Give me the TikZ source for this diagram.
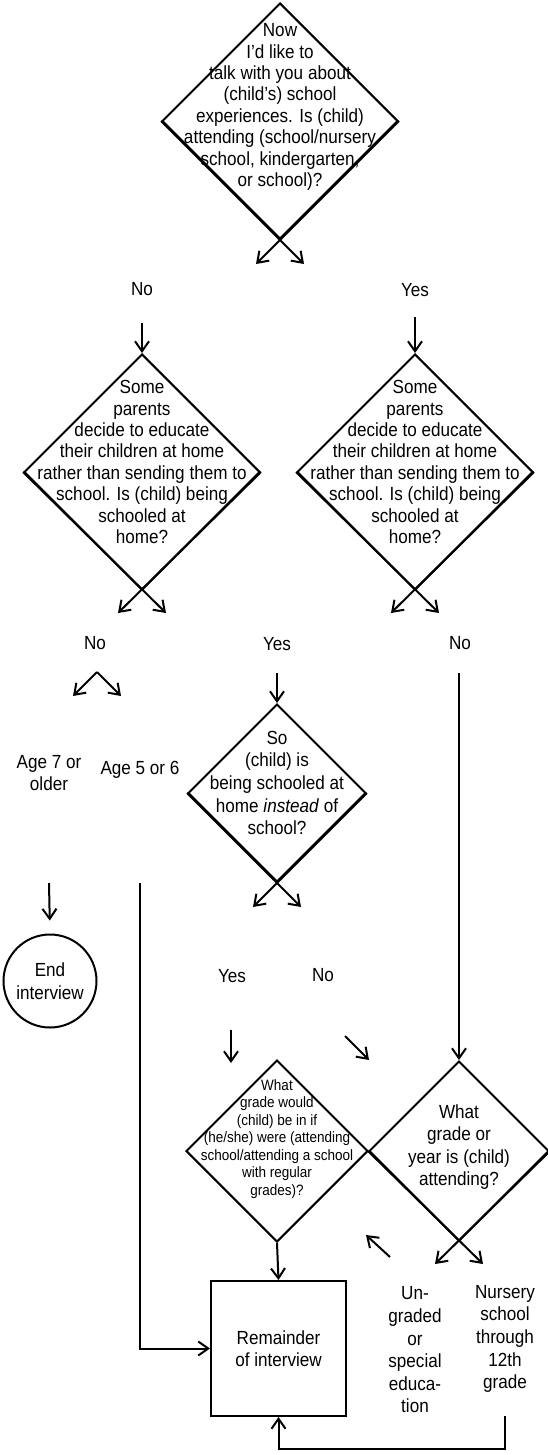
\documentclass[tikz,border=0pt]{standalone}
\usepackage{fontspec}
\setmainfont{Liberation Sans}[FakeStretch=0.9]
\usetikzlibrary{shapes.geometric,arrows.meta,calc}
\begin{document}
\begin{tikzpicture}[x=1pt,y=-1pt,
  line width=2pt,
  dia/.style={draw, diamond, aspect=1, inner sep=0pt, minimum width=#1, minimum height=#1},
  qtext/.style={align=center, inner sep=0pt, font=\fontsize{19}{21.4}\selectfont},
  stext/.style={align=center, inner sep=0pt, font=\fontsize{15}{17.5}\selectfont},
  lab/.style={align=center, inner sep=0pt, font=\fontsize{19}{22.6}\selectfont},
  arr/.style={-{Straight Barb[length=10pt,width=14pt]}},
  ]
\useasboundingbox (0,0) rectangle (548,1455);

% decision diamonds
\node[dia=236pt] (d1) at (280,121) {};
\node[qtext] (d1t) at (280,107) {Now\\I’d like to\\talk with you about\\(child’s) school\\experiences. Is (child)\\attending (school/nursery\\school, kindergarten,\\or school)?};

\node[dia=236pt] (d2) at (142,472) {};
\node[qtext] (d2t) at (142,462) {Some\\parents\\decide to educate\\their children at home\\rather than sending them to\\school. Is (child) being\\schooled at\\home?};

\node[dia=236pt] (d3) at (415,472) {};
\node[qtext] (d3t) at (415,462) {Some\\parents\\decide to educate\\their children at home\\rather than sending them to\\school. Is (child) being\\schooled at\\home?};

\node[dia=178pt] (d4) at (277,793) {};
\node[lab] (d4t) at (277,783) {So\\(child) is\\being schooled at\\home \textit{instead} of\\school?};

\node[dia=182pt] (d5) at (277,1151) {};
\node[stext] (d5t) at (277,1139) {What\\grade would\\(child) be in if\\(he/she) were (attending\\school/attending a school\\with regular\\grades)?};

\node[dia=180pt] (d6) at (459,1151) {};
\node[lab] (d6t) at (459,1147) {What\\grade or\\year is (child)\\attending?};

% terminal shapes
\node[draw, circle, minimum size=93pt, inner sep=0pt, lab] (end) at (50,981) {End\\interview};
\node[draw, rectangle, minimum width=135pt, minimum height=135pt, lab] (box) at (278.5,1348.5) {Remainder\\of interview};

% labels
\node[lab] (no1) at (142,289) {No};
\node[lab] (yes1) at (415,290) {Yes};
\node[lab] (no2) at (95,643) {No};
\node[lab] (yes2) at (277,644) {Yes};
\node[lab] (no3) at (460,643) {No};
\node[lab] (age7) at (49,773) {Age 7 or\\older};
\node[lab] (age5) at (140,770) {Age 5 or 6};
\node[lab] (yes4) at (232,976) {Yes};
\node[lab] (no4) at (323,975) {No};
\node[lab] (ung) at (415,1350) {Un-\\graded\\or\\special\\educa-\\tion};
\node[lab] (nur) at (505,1339) {Nursery\\school\\through\\12th\\grade};

% free ends
\coordinate (t1l) at (256,264);
\coordinate (t1r) at (304,264);
\coordinate (s2) at (142,323);
\coordinate (s3) at (415,317);
\coordinate (t2l) at (118,613);
\coordinate (t2r) at (166,613);
\coordinate (t3l) at (391,613);
\coordinate (t3r) at (439,613);
\coordinate (pk) at (97,672);
\coordinate (pk1) at (73,696);
\coordinate (pk2) at (121,696);
\coordinate (s4) at (277,673);
\coordinate (s6) at (459,673);
\coordinate (t4l) at (253,907);
\coordinate (t4r) at (301,907);
\coordinate (e1) at (49,883);
\coordinate (v1) at (140,883);
\coordinate (y5) at (231,1030);
\coordinate (y5e) at (231,1063);
\coordinate (n5) at (345,1036);
\coordinate (n5e) at (369,1060);
\coordinate (t6l) at (435,1264);
\coordinate (t6r) at (483,1264);
\coordinate (ua) at (390,1257);
\coordinate (uae) at (366,1235);
\coordinate (nb) at (505,1416);
\coordinate (nbc) at (505,1449);

% connectors
\draw[arr] (d1.east) -- (t1l);
\draw[arr] (d1.west) -- (t1r);
\draw[arr] (s2) -- (d2.north);
\draw[arr] (s3) -- (d3.north);
\draw[arr] (d2.east) -- (t2l);
\draw[arr] (d2.west) -- (t2r);
\draw[arr] (d3.east) -- (t3l);
\draw[arr] (d3.west) -- (t3r);
\draw[arr] (pk) -- (pk1);
\draw[arr] (pk) -- (pk2);
\draw[arr] (s4) -- (d4.north);
\draw[arr] (s6) -- (d6.north);
\draw[arr] (d4.east) -- (t4l);
\draw[arr] (d4.west) -- (t4r);
\draw[arr, shorten >=13pt] (e1) -- (end.north);
\draw[arr] (v1) |- (box.west);
\draw[arr] (y5) -- (y5e);
\draw[arr] (n5) -- (n5e);
\draw[arr] (d5.south) -- (box.north);
\draw[arr] (d6.east) -- (t6l);
\draw[arr] (d6.west) -- (t6r);
\draw[arr] (ua) -- (uae);
\draw[arr] (nb) -- (nbc) -| (box.south);
\end{tikzpicture}
\end{document}
